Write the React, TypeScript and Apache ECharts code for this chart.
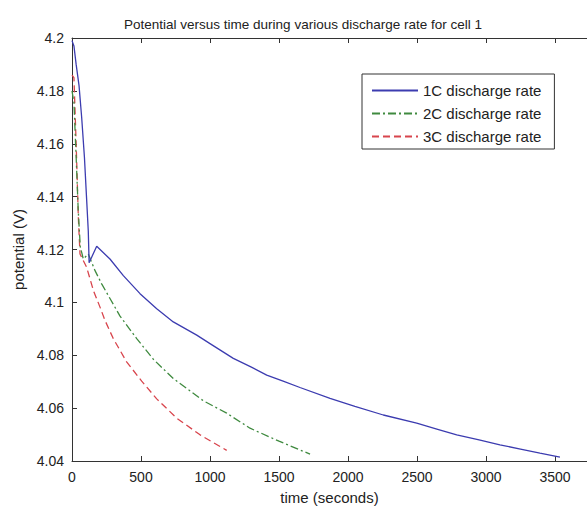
import React, { useEffect, useRef } from "react";
import * as echarts from "echarts";

const titleText = "Potential versus time during various discharge rate for cell 1";
const xAxisName = "time (seconds)";
const yAxisName = "potential (V)";
const seriesNames = ["1C discharge rate", "2C discharge rate", "3C discharge rate"];

const rate1C: [number, number][] = [
  [0, 4.199], [14, 4.197], [30, 4.19], [51, 4.182], [70, 4.17], [90, 4.155], [105, 4.14],
  [118, 4.127], [124, 4.115], [179, 4.1212], [275, 4.1164], [372, 4.1101], [493, 4.1033],
  [614, 4.0976], [734, 4.0926], [904, 4.0876], [1000, 4.0844], [1169, 4.0788], [1300, 4.0755],
  [1411, 4.0725], [1530, 4.0702], [1652, 4.0678], [1870, 4.0637], [2050, 4.0607], [2256, 4.0574],
  [2498, 4.0543], [2650, 4.052], [2788, 4.0499], [2950, 4.048], [3101, 4.0461], [3250, 4.0445],
  [3391, 4.043], [3536, 4.0415],
];

const rate2C: [number, number][] = [
  [0, 4.18], [14, 4.1756], [30, 4.155], [45, 4.135], [60, 4.121], [82, 4.1164], [118, 4.1183],
  [167, 4.112], [215, 4.107], [348, 4.0948], [469, 4.0863], [589, 4.0785], [734, 4.0712],
  [951, 4.0628], [1121, 4.0581], [1290, 4.0524], [1500, 4.0475], [1725, 4.0426],
];

const rate3C: [number, number][] = [
  [0, 4.186], [14, 4.185], [30, 4.16], [46, 4.132], [58, 4.1183], [106, 4.1133], [155, 4.1045],
  [203, 4.0982], [239, 4.0932], [299, 4.0863], [396, 4.0775], [505, 4.0702], [614, 4.0635],
  [759, 4.0562], [928, 4.0499], [1121, 4.0440],
];

const xMax = 3732;
const colors = ["#3c3cb0", "#3f8a3f", "#d8454d"];
const dashes: any[] = ["solid", [8, 3, 2, 3], [7, 4]];

export default function App() {
  const ref = useRef<HTMLDivElement>(null);
  useEffect(() => {
    if (!ref.current) return;
    const chart = echarts.init(ref.current, undefined, { renderer: "svg" });
    const font = "Liberation Sans, Arial, sans-serif";
    const data = [rate1C, rate2C, rate3C];
    const xFmt = (v: number) => (Math.abs(v % 500) < 1e-6 ? String(v) : "");
    chart.setOption({
      animation: false,
      backgroundColor: "#ffffff",
      textStyle: { fontFamily: font },
      title: {
        text: titleText,
        left: 298,
        top: 12,
        textAlign: "center",
        textStyle: { fontSize: 13.5, fontWeight: "normal", color: "#222", fontFamily: font },
      },
      grid: { left: 72, right: 0, top: 38, bottom: 47 },
      legend: {
        data: seriesNames,
        orient: "vertical",
        left: 362,
        top: 74,
        padding: [9, 13, 5, 9],
        itemWidth: 46,
        itemHeight: 14,
        itemGap: 8,
        borderColor: "#333",
        borderWidth: 1,
        backgroundColor: "#fff",
        itemStyle: { opacity: 0 },
        textStyle: { fontSize: 15, color: "#222", fontFamily: font },
      },
      xAxis: [
        {
          type: "value",
          min: 0,
          max: xMax,
          interval: 500,
          position: "bottom",
          name: xAxisName,
          nameLocation: "middle",
          nameGap: 29,
          nameTextStyle: { fontSize: 15, color: "#222" },
          axisLine: { lineStyle: { color: "#333", width: 1 } },
          axisTick: { inside: true, length: 5, lineStyle: { color: "#333" } },
          axisLabel: { fontSize: 14, color: "#222", margin: 9, formatter: xFmt, showMaxLabel: false },
          splitLine: { show: false },
        },
        {
          type: "value",
          min: 0,
          max: xMax,
          interval: 500,
          position: "top",
          axisLine: { lineStyle: { color: "#333", width: 1 } },
          axisTick: { inside: true, length: 5, lineStyle: { color: "#333" } },
          axisLabel: { show: false },
          splitLine: { show: false },
        },
      ],
      yAxis: [
        {
          type: "value",
          min: 4.04,
          max: 4.2,
          interval: 0.02,
          name: yAxisName,
          nameLocation: "middle",
          nameGap: 46,
          nameTextStyle: { fontSize: 15, color: "#222" },
          axisLine: { show: true, lineStyle: { color: "#333", width: 1 } },
          axisTick: { show: true, inside: true, length: 5, lineStyle: { color: "#333" } },
          axisLabel: { fontSize: 14, color: "#222", margin: 8 },
          splitLine: { show: false },
        },
      ],
      series: seriesNames.map((name, i) => ({
        name,
        type: "line",
        data: data[i],
        showSymbol: false,
        symbol: "none",
        smooth: false,
        z: 3 - i,
        lineStyle: { color: colors[i], width: 1.3, type: dashes[i] },
        itemStyle: { color: colors[i] },
      })),
    });
    return () => chart.dispose();
  }, []);
  return (
    <div
      ref={ref}
      style={{ position: "fixed", left: 0, top: 0, width: 587, height: 510, background: "#fff" }}
    />
  );
}
